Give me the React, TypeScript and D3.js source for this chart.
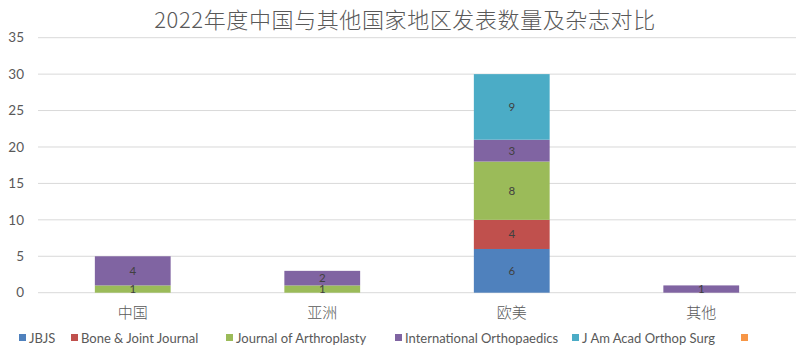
import React from 'react';
import * as d3 from 'd3';

const title = '2022年度中国与其他国家地区发表数量及杂志对比';
const regions = ['中国', '亚洲', '欧美', '其他'];
const journals = ['JBJS', 'Bone & Joint Journal', 'Journal of Arthroplasty', 'International Orthopaedics', 'J Am Acad Orthop Surg'];
// values per journal, in region order
const jbjs = [0, 0, 6, 0];
const boneJoint = [0, 0, 4, 0];
const arthroplasty = [1, 1, 8, 0];
const intlOrtho = [4, 2, 3, 1];
const jAmAcad = [0, 0, 9, 0];
const yTicks = [0, 5, 10, 15, 20, 25, 30, 35];

const colors = ['#4F81BD', '#C0504D', '#9BBB59', '#8064A2', '#4BACC6', '#F79646'];
const legendX = [19, 71, 226, 395, 572, 741];

const W = 800;
const H = 352;
const cn = '"Noto Sans CJK SC", sans-serif';
const lat = 'Lato, "Noto Sans", sans-serif';

export default function App() {
  const series = [jbjs, boneJoint, arthroplasty, intlOrtho, jAmAcad];
  const rows = regions.map((r, i) => {
    const o: any = { region: r };
    journals.forEach((j, k) => { o[j] = series[k][i]; });
    return o;
  });
  const stacked = d3.stack().keys(journals)(rows);

  const x = d3.scaleBand().domain(regions).range([38, 796]).paddingInner(0.6).paddingOuter(0.3);
  const y = d3.scaleLinear().domain([0, 35]).range([292.7, 37.7]);

  return (
    <svg width={W} height={H} style={{ position: 'absolute', left: 0, top: 0, background: '#fff' }}>
      <text x={405} y={28} textAnchor="middle" fontFamily={cn} fontSize={22} letterSpacing={0.6}
        fontWeight={300} fill="#595959">{title}</text>
      {yTicks.map(t => (
        <g key={t}>
          <line x1={38} x2={796} y1={y(t)} y2={y(t)} stroke="#D9D9D9" strokeWidth={1} />
          <text x={24} y={y(t)} dy="0.35em" textAnchor="end" fontFamily={lat} fontSize={13.5} fill="#595959">{t}</text>
        </g>
      ))}
      {stacked.map((s, k) => (
        <g key={s.key} fill={colors[k]}>
          {s.map((d, i) => d[1] - d[0] > 0 ? (
            <rect key={i} x={x(regions[i])} width={x.bandwidth()} y={y(d[1])} height={y(d[0]) - y(d[1])} />
          ) : null)}
        </g>
      ))}
      {stacked.map((s, k) => (
        <g key={s.key + 'l'}>
          {s.map((d, i) => d[1] - d[0] > 0 ? (
            <text key={i} x={(x(regions[i]) as number) + x.bandwidth() / 2} y={(y(d[0]) + y(d[1])) / 2} dy="0.35em"
              textAnchor="middle" fontFamily={lat} fontSize={11.5} fill="#404040">{d[1] - d[0]}</text>
          ) : null)}
        </g>
      ))}
      {regions.map(r => (
        <text key={r} x={(x(r) as number) + x.bandwidth() / 2} y={313} dy="0.35em" textAnchor="middle"
          fontFamily={cn} fontSize={15} fontWeight={300} fill="#595959">{r}</text>
      ))}
      {colors.map((c, k) => (
        <g key={c} transform={`translate(${legendX[k]},338)`}>
          <rect x={0} y={-4} width={7} height={7} fill={c} />
          {journals[k] ? (
            <text x={10} y={0} dy="0.35em" fontFamily={lat} fontSize={13} fill="#595959">{journals[k]}</text>
          ) : null}
        </g>
      ))}
    </svg>
  );
}
